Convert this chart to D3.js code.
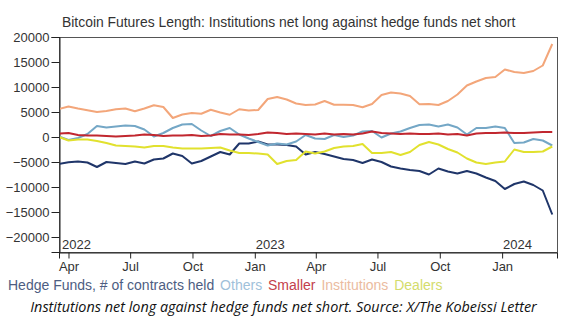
<!DOCTYPE html>
<html>
<head>
<meta charset="utf-8">
<script src="https://cdn.jsdelivr.net/npm/d3@7"></script>
<style>
  body { margin: 0; background: #fff; }
  svg text { font-family: "Liberation Sans", Arial, sans-serif; }
</style>
</head>
<body>
<script>
// Bi-weekly sample dates, Mar 2022 .. Mar 2024
var startDate = new Date(2022, 2, 18);
var dates = d3.range(53).map(function(i){ return d3.timeDay.offset(startDate, i * 14); });

// Net contracts held
var hedgeFunds = [-5400,-5050,-4900,-5100,-6000,-5000,-5200,-5400,-4900,-5300,-4500,-4300,-3300,-3800,-5300,-4800,-3900,-3000,-3500,-1300,-1300,-900,-1500,-1500,-1600,-1900,-3500,-3000,-3400,-3900,-4400,-4600,-5200,-4500,-5000,-5900,-6300,-6600,-6800,-7500,-6300,-6900,-7300,-6800,-7300,-8100,-8800,-10400,-9400,-8900,-9600,-10700,-15500];
var others = [100,-600,-200,600,2200,1900,2100,2300,2200,1500,100,800,1800,2500,2600,1300,200,1200,1800,500,-300,-1000,-1700,-1300,-1500,-900,400,-300,-400,400,0,300,1100,1200,-100,700,1100,1800,2400,2500,2100,2500,1900,500,1800,1800,2100,1800,-1200,-1100,-400,-700,-1700];
var smaller = [700,800,400,300,300,200,100,200,300,500,400,200,300,300,400,200,300,600,500,500,400,600,900,800,600,700,600,500,700,500,600,500,700,1100,800,700,600,700,600,600,700,500,600,300,700,800,800,900,800,800,900,1000,1000];
var institutions = [5600,6100,5700,5350,5000,5200,5550,5700,5150,5700,6350,6000,3800,4500,4800,4650,5450,4900,4450,5550,5300,5400,7600,8000,7500,6700,6400,6500,7200,6450,6450,6400,5950,6600,8400,8900,8700,8200,6550,6600,6400,7200,8500,10300,11100,11800,12000,13500,13000,12800,13200,14300,18600];
var dealers = [0,-700,-500,-500,-800,-1200,-1700,-1800,-1900,-2100,-1800,-1800,-2100,-2300,-2300,-2300,-2200,-2100,-2700,-3200,-3200,-3300,-3500,-5400,-4800,-4600,-2900,-3300,-2900,-2200,-1900,-1800,-1400,-3200,-3200,-3000,-3600,-3000,-1600,-1000,-1500,-2400,-3100,-4300,-5100,-5400,-5100,-4900,-2500,-3000,-3000,-2900,-1900];

var seriesNames = ["Hedge Funds, # of contracts held", "Others", "Smaller", "Institutions", "Dealers"];
var seriesValues = [hedgeFunds, others, smaller, institutions, dealers];
var lineColors = ["#1f3569", "#74a7c6", "#c1272f", "#f3a67a", "#e1e12e"];
var legendColors = ["#4d5d82", "#9fc1da", "#c3404b", "#ebbba0", "#d4dc6c"];

var yTicks = [20000, 15000, 10000, 5000, 0, -5000, -10000, -15000, -20000];
var yearLabels = [2022, 2023, 2024];

drawChart();

function drawChart(){
  var width = 584, height = 322;
  var plotLeft = 59, plotRight = 557, plotTop = 37, plotBottom = 252;

  var svg = d3.select("body").append("svg")
    .attr("width", width)
    .attr("height", height);

  var x = d3.scaleTime()
    .domain([new Date(2022, 2, 18), new Date(2024, 2, 22)])
    .range([plotLeft, plotRight]);

  var y = d3.scaleLinear()
    .domain([-23000, 20000])
    .range([plotBottom, plotTop]);

  // title
  svg.append("text")
    .attr("x", 62)
    .attr("y", 27)
    .attr("fill", "#333")
    .style("font-size", "13.9px")
    .text("Bitcoin Futures Length: Institutions net long against hedge funds net short");

  // frame
  svg.append("rect")
    .attr("x", plotLeft + 0.5).attr("y", plotTop + 0.5)
    .attr("width", plotRight - plotLeft).attr("height", plotBottom - plotTop)
    .attr("fill", "none").attr("stroke", "#555");

  // y axis
  var yAxis = svg.append("g")
    .attr("transform", "translate(" + (plotLeft + 0.5) + ",0)")
    .call(d3.axisLeft(y).tickValues(yTicks).tickSize(8).tickPadding(2).tickFormat(d3.format("d")));
  yAxis.select(".domain").attr("stroke", "#222");
  yAxis.selectAll("line").attr("stroke", "#222");
  yAxis.selectAll("text").attr("fill", "#333").style("font-size", "13px");

  // x axis (quarters)
  var xAxis = svg.append("g")
    .attr("transform", "translate(0," + (plotBottom + 0.5) + ")")
    .call(d3.axisBottom(x).ticks(d3.timeMonth.every(3)).tickSize(6).tickPadding(3).tickFormat(d3.timeFormat("%b")));
  xAxis.select(".domain").attr("stroke", "#222");
  xAxis.selectAll("line").attr("stroke", "#222");
  xAxis.selectAll("text").attr("fill", "#333").style("font-size", "13px");

  // year labels inside the frame
  svg.selectAll(".year")
    .data(yearLabels)
    .enter().append("text")
    .attr("class", "year")
    .attr("x", function(d){ return Math.max(plotLeft + 3, x(new Date(d, 0, 1)) + 1); })
    .attr("y", 249)
    .attr("fill", "#333")
    .style("font-size", "13px")
    .text(function(d){ return d; });

  // lines
  var line = d3.line()
    .x(function(d, i){ return x(dates[i]); })
    .y(function(d){ return y(d); });

  svg.append("clipPath").attr("id", "plot")
    .append("rect").attr("x", plotLeft + 1).attr("y", plotTop + 1)
    .attr("width", plotRight - plotLeft - 1).attr("height", plotBottom - plotTop - 1);

  svg.append("g").attr("clip-path", "url(#plot)")
    .selectAll(".series")
    .data(seriesValues)
    .enter().append("path")
    .attr("class", "series")
    .attr("d", line)
    .attr("fill", "none")
    .attr("stroke", function(d, i){ return lineColors[i]; })
    .attr("stroke-width", 2)
    .attr("stroke-linejoin", "round");

  // legend, laid out as a run of text
  var legend = svg.append("text")
    .attr("x", 8)
    .attr("y", 290)
    .style("font-size", "14px");
  legend.selectAll("tspan")
    .data(seriesNames)
    .enter().append("tspan")
    .attr("fill", function(d, i){ return legendColors[i]; })
    .attr("dx", function(d, i){ return i ? 2 : 0; })
    .text(function(d, i){ return (i ? " " : "") + d; });

  // caption
  svg.append("text")
    .attr("x", 283.5)
    .attr("y", 312)
    .attr("text-anchor", "middle")
    .attr("fill", "#111")
    .style("font-family", "'Open Sans', sans-serif")
    .style("font-style", "italic")
    .style("font-size", "14.4px")
    .text("Institutions net long against hedge funds net short. Source: X/The Kobeissi Letter");
}
</script>
</body>
</html>
